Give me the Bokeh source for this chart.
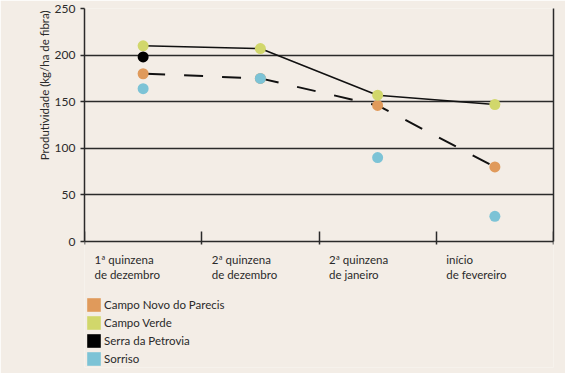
from bokeh.plotting import figure
from bokeh.models import (Range1d, FixedTicker, LinearAxis, Legend, LegendItem,
                          ColumnDataSource, Grid, Title)
from bokeh.core.properties import value
from bokeh.embed import file_html
from bokeh.resources import INLINE

# ---- data ----
periods = ["1ª quinzena\nde dezembro", "2ª quinzena\nde dezembro",
           "2ª quinzena\nde janeiro", "início\nde fevereiro"]
sites = ["Campo Novo do Parecis", "Campo Verde", "Serra da Petrovia", "Sorriso"]
campo_novo = [180, 175, 146, 80]
campo_verde = [210, 207, 157, 147]
serra_periods = [0]
serra = [198]
sorriso = [164, 175, 90, 27]
y_ticks = [0, 50, 100, 150, 200, 250]
y_title = "Produtividade (kg/ha de fibra)"
site_colors = ["#e09a5b", "#d1d76b", "#000000", "#7cc3d6"]

BG = "#f3ede6"
FONT = "Lato"
DARK = "#2a2a2a"

YMAX = 250
# frame extends below the value axis to host the category labels and legend
PX_PER_UNIT = 233 / YMAX
FRAME_H = 373 - 8 - 6
YMIN = YMAX - FRAME_H / PX_PER_UNIT

xc = [i + 0.5 for i in range(len(periods))]

p = figure(width=565, height=373, output_backend="svg", toolbar_location=None,
           x_range=Range1d(0, len(periods)), y_range=Range1d(YMIN, YMAX),
           x_axis_type=None, y_axis_type=None,
           min_border_left=84, min_border_right=12, min_border_top=8,
           min_border_bottom=6,
           background_fill_color=BG, border_fill_color=BG,
           outline_line_color=None)

# y axis (line, ticks, tick labels)
yax = LinearAxis(ticker=FixedTicker(ticks=y_ticks), bounds=(0, YMAX))
yax.axis_line_color = DARK
yax.axis_line_width = 1.5
yax.major_tick_line_color = DARK
yax.major_tick_line_width = 1.5
yax.major_tick_in = 0
yax.major_tick_out = 4
yax.minor_tick_line_color = None
yax.major_label_text_font = FONT
yax.major_label_text_font_size = "12px"
yax.major_label_text_color = DARK
yax.major_label_standoff = 5
p.add_layout(yax, "left")

# y axis title, anchored toward the top like the reference
p.add_layout(Title(text=y_title, align="right", offset=2, standoff=2,
                   text_font=FONT, text_font_size="11.5px",
                   text_font_style="normal", text_color=DARK), "left")

# right border
rax = LinearAxis(ticker=FixedTicker(ticks=[]), bounds=(0, YMAX))
rax.axis_line_color = DARK
rax.axis_line_width = 1.5
rax.major_tick_line_color = None
rax.minor_tick_line_color = None
rax.major_label_text_font_size = "1px"
rax.major_label_standoff = 0
p.add_layout(rax, "right")

# horizontal grid
p.add_layout(Grid(dimension=1, ticker=FixedTicker(ticks=y_ticks[1:]),
                  grid_line_color=DARK, grid_line_width=1.5))

# x axis at value 0 with period boundary ticks
xax = LinearAxis(ticker=FixedTicker(ticks=list(range(len(periods) + 1))),
                 fixed_location=0)
xax.axis_line_color = DARK
xax.axis_line_width = 1.5
xax.major_tick_line_color = DARK
xax.major_tick_line_width = 1.5
xax.major_tick_in = 10
xax.major_tick_out = 3
xax.minor_tick_line_color = None
xax.major_label_overrides = {i: "" for i in range(len(periods) + 1)}
xax.major_label_text_font_size = "1px"
xax.major_label_standoff = 0
p.add_layout(xax, "below")

# period labels, left aligned under each period
p.text(x=[i + 0.085 for i in range(len(periods))], y=[0] * len(periods),
       text=periods, y_offset=11, text_align="left", text_baseline="top",
       text_font=value(FONT), text_font_size="11.5px", text_color=DARK,
       text_line_height=1.22)

# lines
p.line(xc, campo_verde, line_color="#111111", line_width=1.6)
p.line(xc, campo_novo, line_color="#111111", line_width=2, line_dash="19 19",
       line_dash_offset=-3)

# points
S = 11
p.scatter(xc, campo_novo, size=S, fill_color=site_colors[0], line_color=None)
p.scatter(xc, campo_verde, size=S, fill_color=site_colors[1], line_color=None)
p.scatter([xc[i] for i in serra_periods], serra, size=S,
          fill_color=site_colors[2], line_color=None)
p.scatter(xc, sorriso, size=S, fill_color=site_colors[3], line_color=None)

# legend (square swatches)
items = []
for name, col in zip(sites, site_colors):
    r = p.rect(x="x", y="y", width=0, height=0,
               source=ColumnDataSource(dict(x=[float("nan")], y=[float("nan")])),
               fill_color=col, line_color=None)
    items.append(LegendItem(label=name, renderers=[r]))
leg = Legend(items=items, location=(1, 0), orientation="vertical",
             glyph_width=17, glyph_height=17, label_height=17, spacing=1,
             padding=0, margin=0, label_standoff=2,
             label_text_font=FONT, label_text_font_size="11.5px",
             label_text_color=DARK, background_fill_alpha=0,
             border_line_color=None)
p.add_layout(leg)

html = file_html(p, INLINE)
open("out.html", "w").write(html)
